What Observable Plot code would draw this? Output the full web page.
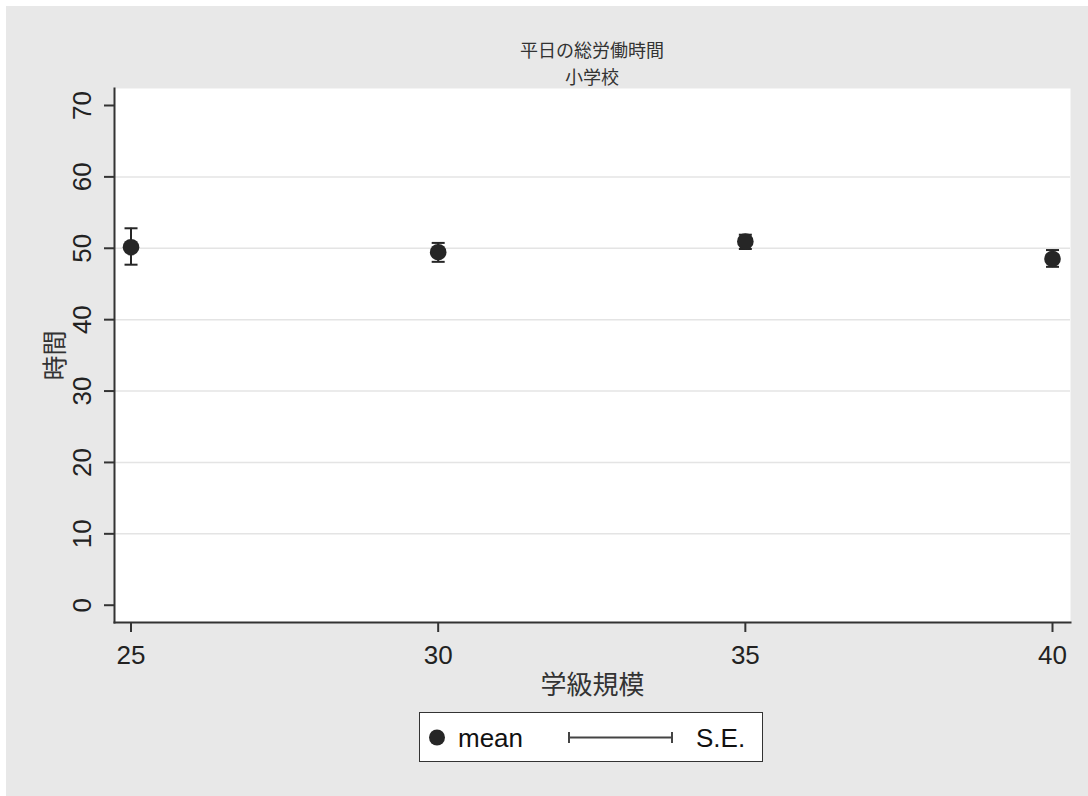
<!DOCTYPE html>
<html>
<head>
<meta charset="utf-8">
<script src="https://cdn.jsdelivr.net/npm/d3@7"></script>
<script src="https://cdn.jsdelivr.net/npm/@observablehq/plot@0.6"></script>
<style>
  html, body { margin: 0; padding: 0; background: #ffffff; }
  #wrap { position: absolute; left: 6px; top: 6px; width: 1082px; height: 790px; background: #e8e8e8; }
  #title { box-sizing: border-box; height: 80px; padding: 29.5px 18px 0 108px; text-align: center;
           font-family: "Noto Sans CJK JP", sans-serif; font-size: 18px; color: #333; }
  #title div { height: 27px; line-height: 27px; }
  #chart svg { display: block; }
  #legend { position: absolute; left: 413px; top: 706px; width: 344px; height: 50px; box-sizing: border-box;
            background: #fff; border: 1.5px solid #333; }
</style>
</head>
<body>
<div id="wrap">
  <div id="title"><div id="t1"></div><div id="t2"></div></div>
  <div id="chart"></div>
  <div id="legend"></div>
</div>
<script>
// ---- data ----
const classSize = [25, 30, 35, 40];
const meanHours = [50.15, 49.45, 50.95, 48.5];
const seLow     = [47.7, 48.1, 49.9, 47.4];
const seHigh    = [52.8, 50.75, 51.9, 49.75];
const xTicks = [25, 30, 35, 40];
const yTicks = [0, 10, 20, 30, 40, 50, 60, 70];
const gridTicks = [10, 20, 30, 40, 50, 60];
const titleText = "平日の総労働時間";
const subtitleText = "小学校";
const xLabel = "学級規模";
const yLabel = "時間";
const legendMean = "mean";
const legendSE = "S.E.";

const rows = classSize.map((s, i) => ({size: s, mean: meanHours[i], lo: seLow[i], hi: seHigh[i]}));

document.getElementById("t1").textContent = titleText;
document.getElementById("t2").textContent = subtitleText;

const ink = "#262626";
const capSymbol = { draw(ctx) { ctx.moveTo(-6.5, 0); ctx.lineTo(6.5, 0); } };

const plot = Plot.plot({
  width: 1082,
  height: 620,
  marginLeft: 108,
  marginRight: 18,
  marginTop: 2,
  marginBottom: 84,
  style: { fontFamily: "'Liberation Sans', 'Noto Sans CJK JP', sans-serif", background: "transparent", color: "#222" },
  x: { domain: [24.731, 40.293], label: null },
  y: { domain: [-2.42, 72.38], label: null },
  marks: [
    Plot.frame({ fill: "white", stroke: null }),
    Plot.gridY(gridTicks, { stroke: "#e4e4e4", strokeOpacity: 1, strokeWidth: 1.5 }),
    Plot.frame({ anchor: "left", stroke: "#333", strokeWidth: 2 }),
    Plot.frame({ anchor: "bottom", stroke: "#333", strokeWidth: 2 }),
    Plot.axisY({ ticks: yTicks, tickSize: 10, tickFormat: () => "", stroke: "#333", strokeWidth: 2 }),
    Plot.text(yTicks, { y: d => d, text: d => String(d), frameAnchor: "left", dx: -32, rotate: -90,
      textAnchor: "middle", lineAnchor: "middle", fontSize: 26, fill: "#222" }),
    Plot.axisX({ ticks: xTicks, tickSize: 10, tickPadding: 13, fontSize: 26, stroke: "#333", strokeWidth: 2, fill: "#222", label: null }),
    Plot.text([xLabel], { text: d => d, frameAnchor: "bottom", dy: 63, lineAnchor: "middle",
      fontSize: 26, fill: "#333", fontFamily: "'Noto Sans CJK JP', sans-serif" }),
    Plot.text([yLabel], { text: d => d, frameAnchor: "left", dx: -59, rotate: -90, textAnchor: "middle",
      lineAnchor: "middle", fontSize: 25, fill: "#333", fontFamily: "'Noto Sans CJK JP', sans-serif" }),
    Plot.ruleX(rows, { x: "size", y1: "lo", y2: "hi", stroke: ink, strokeWidth: 2 }),
    Plot.dot(rows, { x: "size", y: "lo", symbol: capSymbol, stroke: ink, strokeWidth: 2, r: 5 }),
    Plot.dot(rows, { x: "size", y: "hi", symbol: capSymbol, stroke: ink, strokeWidth: 2, r: 5 }),
    Plot.dot(rows, { x: "size", y: "mean", r: 8.3, fill: ink, stroke: null })
  ]
});
document.getElementById("chart").appendChild(plot);

// legend
const lg = document.getElementById("legend");
lg.innerHTML = `
<svg width="341" height="47" style="display:block" font-family="'Liberation Sans', sans-serif">
  <circle cx="17" cy="24.5" r="8" fill="${ink}"></circle>
  <text x="38" y="34" font-size="26" fill="#111">${legendMean}</text>
  <line x1="149" x2="252" y1="24.5" y2="24.5" stroke="#444" stroke-width="2"></line>
  <line x1="149" x2="149" y1="19" y2="30" stroke="#444" stroke-width="2"></line>
  <line x1="252" x2="252" y1="19" y2="30" stroke="#444" stroke-width="2"></line>
  <text x="276" y="34" font-size="26" fill="#111">${legendSE}</text>
</svg>`;
</script>
</body>
</html>
